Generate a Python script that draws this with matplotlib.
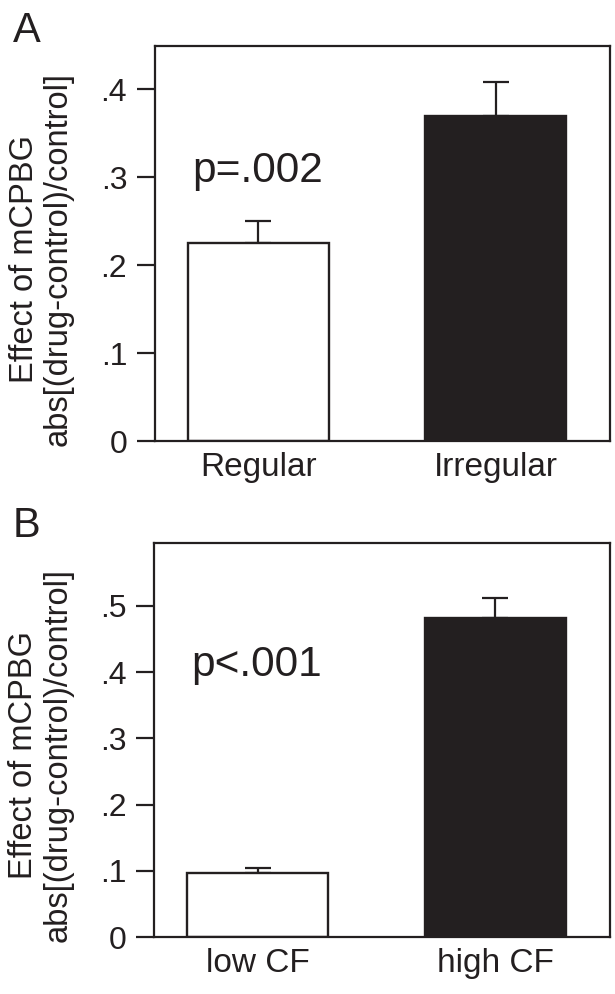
import numpy as np
import matplotlib
matplotlib.use("Agg")
import matplotlib.pyplot as plt

plt.rcParams['font.family'] = ['Liberation Sans', 'DejaVu Sans']

# panel A data
catsA = ["Regular", "Irregular"]
meanA = [0.225, 0.369]
semA = [0.025, 0.039]
ticksA = [0, 0.1, 0.2, 0.3, 0.4]
tlabA = ["0", ".1", ".2", ".3", ".4"]

# panel B data
catsB = ["low CF", "high CF"]
meanB = [0.097, 0.482]
semB = [0.008, 0.030]
ticksB = [0, 0.1, 0.2, 0.3, 0.4, 0.5]
tlabB = ["0", ".1", ".2", ".3", ".4", ".5"]

ylab = "Effect of mCPBG\nabs[(drug-control)/control]"
dark = "#231f20"

fig = plt.figure(figsize=(6.15, 9.94), dpi=100)
axA = fig.add_axes([0.252, 0.5563, 0.740, 0.3974])
axB = fig.add_axes([0.251, 0.0573, 0.741, 0.3964])

def panel(ax, cats, means, sems, ticks, tlabs, ytop, ptext, py, letter, ly):
    x = np.arange(len(cats))
    ax.bar(x, means, width=0.594, color=["white", dark], edgecolor=dark,
           linewidth=1.7, zorder=2)
    ax.errorbar(x, means, yerr=[np.zeros(len(sems)), sems], fmt="none",
                ecolor=dark, elinewidth=1.6, capsize=9.4, capthick=1.6, zorder=1)
    ax.set_xlim(-0.434, 1.482)
    ax.set_ylim(0, ytop)
    ax.set_xticks(x)
    ax.set_xticklabels(cats, fontsize=24)
    ax.set_yticks(ticks)
    ax.set_yticklabels(tlabs, fontsize=23)
    ax.tick_params(axis="x", length=0, pad=8, colors=dark)
    ax.tick_params(axis="y", length=13, width=1.6, pad=7, colors=dark)
    for s in ax.spines.values():
        s.set_linewidth(1.6)
        s.set_color(dark)
    ax.set_ylabel(ylab, fontsize=23.5, color=dark, linespacing=1.12)
    ax.yaxis.set_label_coords(-0.178, 0.462)
    ax.text(-0.278, py, ptext, fontsize=30.5, color=dark, ha="left", va="baseline")
    fig.text(0.021, ly, letter, fontsize=30, color=dark, ha="left", va="top")

panel(axA, catsA, meanA, semA, ticksA, tlabA, 0.449, "p=.002", 0.294, "A", 0.989)
panel(axB, catsB, meanB, semB, ticksB, tlabB, 0.595, "p<.001", 0.394, "B", 0.491)

fig.savefig("out.png", dpi=100)
